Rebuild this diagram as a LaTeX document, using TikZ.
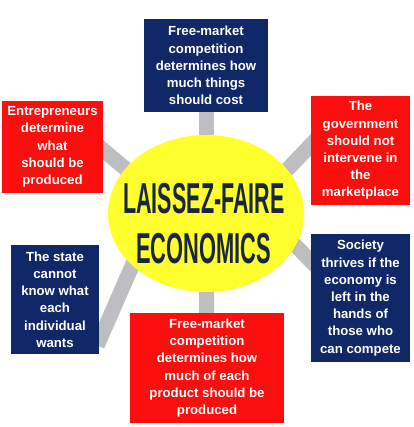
\documentclass[tikz,border=0pt]{standalone}
\usepackage{fontspec}
\setmainfont{Liberation Sans}
\usetikzlibrary{backgrounds,calc,shapes.geometric}
\definecolor{navybox}{RGB}{17,40,104}
\definecolor{redbox}{RGB}{250,14,14}
\definecolor{conngray}{RGB}{190,190,194}
\definecolor{yel}{RGB}{255,255,45}
\definecolor{titlec}{RGB}{24,38,66}
\tikzset{
  box/.style={rectangle, inner sep=0pt, align=center, text=white,
    font=\fontsize{13.2}{17.2}\selectfont\bfseries},
  navy/.style={box, fill=navybox},
  redb/.style={box, fill=redbox},
  conn/.style={draw=conngray, line width=15pt},
  title/.style={text=titlec, inner sep=0pt, anchor=base,
    font=\fontsize{43.3}{46}\selectfont\bfseries},
}
\begin{document}
\begin{tikzpicture}[x=1pt,y=-1pt]
\useasboundingbox (0,0) rectangle (413,427);
% centre ellipse
\node[ellipse, fill=yel, inner sep=0pt, minimum width=196pt, minimum height=157pt] (ell) at (206,213.5) {};
\node[title] (t1) at (204,213) {\scalebox{0.497}[1]{LAISSEZ-FAIRE}};
\node[title] (t2) at (203.5,263) {\scalebox{0.505}[1]{ECONOMICS}};
% boxes
\node[navy, minimum width=124pt, minimum height=93pt] (topbox) at (206,65.5)
  {Free-market\\competition\\determines how\\much things\\should cost};
\node[redb, minimum width=101pt, minimum height=92pt] (ulbox) at (52.5,147)
  {Entrepreneurs\\determine\\what\\should be\\produced};
\node[redb, minimum width=99pt, minimum height=109pt] (urbox) at (360.5,150.5)
  {The\\government\\should not\\intervene in\\the\\marketplace};
\node[navy, minimum width=88pt, minimum height=109pt] (llbox) at (55,299.5)
  {The state\\cannot\\know what\\each\\individual\\wants};
\node[redb, minimum width=154pt, minimum height=110pt] (botbox) at (207,368)
  {Free-market\\competition\\determines how\\much of each\\product should be\\produced};
\node[navy, minimum width=99pt, minimum height=128pt] (lrbox) at (360.5,298)
  {Society\\thrives if the\\economy is\\left in the\\hands of\\those who\\can compete};
% connectors
\begin{scope}[on background layer]
  \draw[conn] (topbox) -- (ell);
  \draw[conn] (botbox) -- (ell);
  \draw[conn] ($(ulbox.east)+(-10,-5.5)$) -- ($(ell.center)+(-31,-3)$);
  \draw[conn] ($(urbox.west)+(9,-15)$) -- ($(ell.center)+(44,-5)$);
  \draw[conn] ($(llbox.east)+(-2,46)$) -- ($(ell.center)+(-56,11.5)$);
  \draw[conn] ($(lrbox.west)+(11,-26)$) -- ($(ell.center)+(44,-13.5)$);
\end{scope}
\end{tikzpicture}
\end{document}
